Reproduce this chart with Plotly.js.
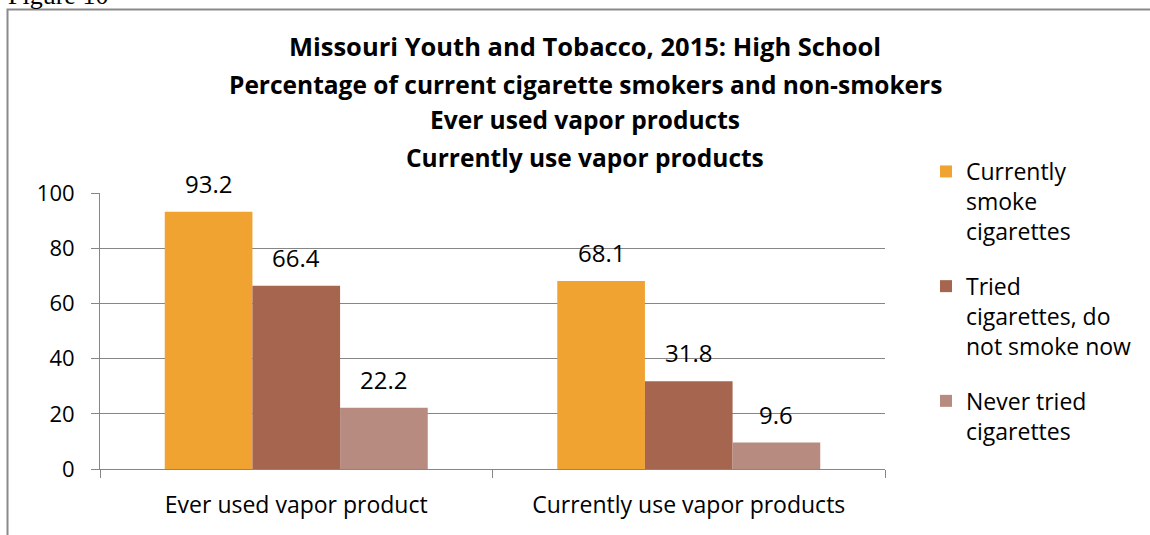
<!DOCTYPE html>
<html>
<head>
<meta charset="utf-8">
<script src="https://cdn.plot.ly/plotly-3.0.1.min.js"></script>
<style>
  html, body { margin: 0; padding: 0; background: #ffffff; }
  #chart { width: 1150px; height: 535px; }
</style>
</head>
<body>
<div id="chart"></div>
<script>
// ---- data ----
const categories = ["Ever used vapor product", "Currently use vapor products"];
const seriesNames = ["Currently<br>smoke<br>cigarettes", "Tried<br>cigarettes, do<br>not smoke now", "Never tried<br>cigarettes"];
const currentlySmoke = [93.2, 68.1];
const triedNotNow = [66.4, 31.8];
const neverTried = [22.2, 9.6];
const titleLines = [
  "Missouri Youth and Tobacco, 2015: High School",
  "Percentage of current cigarette smokers and non-smokers",
  "Ever used vapor products",
  "Currently use vapor products"
];
const figureLabel = "Figure 10";
const yTicks = [0, 20, 40, 60, 80, 100];

// ---- styling ----
const colors = ["#F0A330", "#A5654F", "#B88B80"];
const FONT = "'Open Sans', 'Noto Sans', sans-serif";
const W = 1150, H = 535;
const M = { l: 100, r: 265, t: 193, b: 66 };
const plotW = W - M.l - M.r, plotH = H - M.t - M.b;
const px2x = px => (px - M.l) / plotW;
const py2y = py => (H - M.b - py) / plotH;
const bargap = 0.33;

const allSeries = [currentlySmoke, triedNotNow, neverTried];
const traces = allSeries.map((vals, i) => ({
  type: "bar",
  name: seriesNames[i],
  x: categories,
  y: vals,
  legendgroup: "g" + i,
  marker: { color: colors[i], line: { width: 0 } },
  hoverinfo: "skip"
}));

const annotations = [];
// data labels
const barW = (1 - bargap) / allSeries.length;
allSeries.forEach((vals, i) => {
  vals.forEach((v, j) => {
    annotations.push({
      x: j + (i - (allSeries.length - 1) / 2) * barW,
      y: v, xref: "x", yref: "y",
      text: v.toFixed(1), showarrow: false,
      yanchor: "bottom", yshift: 10,
      font: { family: FONT, size: 24, color: "#000" }
    });
  });
});
// title lines 2-4
const titleY = [47, 84, 120, 157];
for (let k = 1; k < titleLines.length; k++) {
  annotations.push({
    x: px2x(585), y: py2y(titleY[k]), xref: "paper", yref: "paper",
    text: "<b>" + titleLines[k] + "</b>", showarrow: false,
    xanchor: "center", yanchor: "middle",
    font: { family: FONT, size: 24.5, color: "#000" }
  });
}
// figure label
annotations.push({
  x: px2x(6), y: py2y(-4), xref: "paper", yref: "paper",
  text: figureLabel, showarrow: false, xanchor: "left", yanchor: "middle",
  font: { family: "'Liberation Serif', 'Times New Roman', serif", size: 26, color: "#000" }
});

const layout = {
  width: W, height: H,
  margin: M,
  paper_bgcolor: "#ffffff", plot_bgcolor: "#ffffff",
  title: {
    text: "<b>" + titleLines[0] + "</b>",
    font: { family: FONT, size: 25.5, color: "#000" },
    x: 585 / W, xanchor: "center", xref: "container",
    y: 1 - titleY[0] / H, yanchor: "middle", yref: "container"
  },
  barmode: "group", bargap: bargap, bargroupgap: 0,
  showlegend: true,
  legend: {
    x: px2x(926), y: py2y(150), xanchor: "left", yanchor: "top",
    xref: "paper", yref: "paper",
    font: { family: FONT, size: 23, color: "#000" },
    valign: "top", tracegroupgap: 22, bgcolor: "rgba(0,0,0,0)",
    maxheight: 380
  },
  xaxis: {
    type: "category",
    showline: true, linecolor: "#868686", linewidth: 1,
    ticks: "outside", tickson: "boundaries", ticklen: 8, tickcolor: "#868686",
    tickfont: { family: FONT, size: 23, color: "#000" },
    ticklabelstandoff: 15,
    showgrid: false, zeroline: false, fixedrange: true
  },
  yaxis: {
    range: [0, 100], tickvals: yTicks, ticktext: yTicks.map(String),
    showline: true, linecolor: "#868686", linewidth: 1,
    ticks: "outside", ticklen: 8, tickcolor: "#868686",
    tickfont: { family: FONT, size: 22, color: "#000" },
    ticklabelstandoff: 12,
    showgrid: true, gridcolor: "#868686", gridwidth: 1,
    zeroline: false, fixedrange: true
  },
  shapes: [{
    type: "rect", xref: "paper", yref: "paper",
    x0: px2x(7.5), x1: px2x(1170), y0: py2y(545), y1: py2y(9.5),
    line: { color: "#8a8a8a", width: 2 }, fillcolor: "rgba(0,0,0,0)", layer: "below"
  }],
  annotations: annotations
};

Plotly.newPlot("chart", traces, layout, { displayModeBar: false, staticPlot: true });
</script>
</body>
</html>
